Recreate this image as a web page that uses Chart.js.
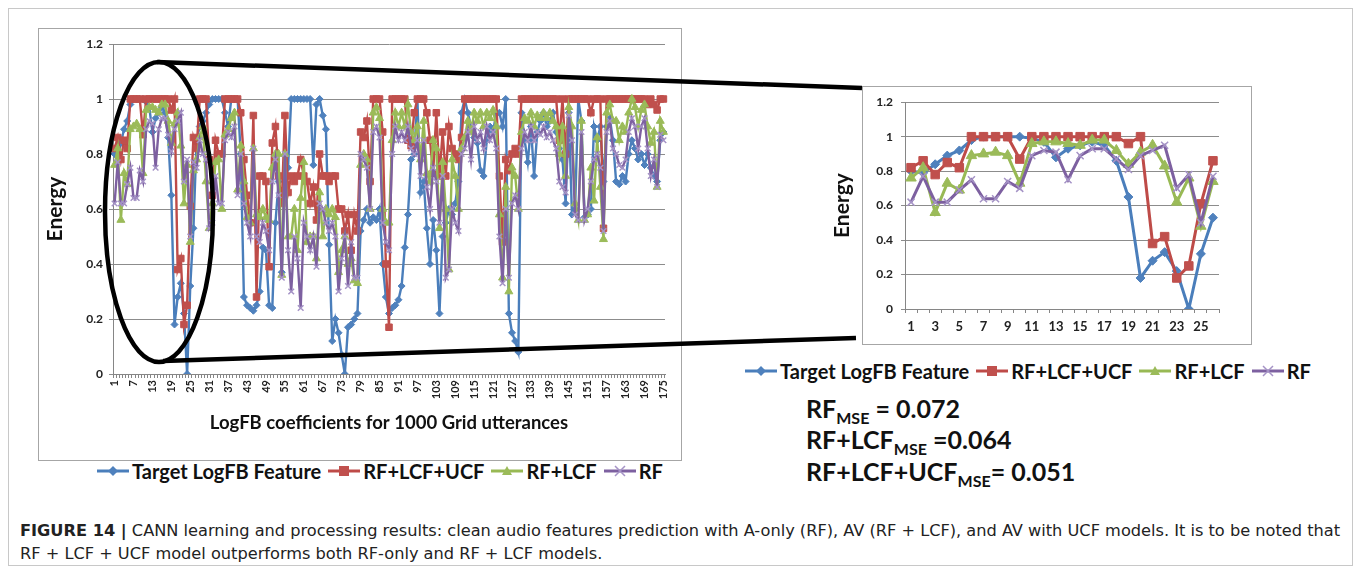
<!DOCTYPE html>
<html>
<head>
<meta charset="utf-8">
<script src="https://cdn.jsdelivr.net/npm/chart.js@4.4.1/dist/chart.umd.min.js"></script>
<style>
body { margin: 0; background: #fff; }
#page { position: relative; width: 1360px; height: 571px; overflow: hidden; background: #fff; font-family: Lato, 'Open Sans', sans-serif; }
#frame { position: absolute; left: 8px; top: 8px; width: 1343px; height: 556px; border: 1px solid #c8c8c8; }
.box { position: absolute; border: 1px solid #a6a6a6; }
canvas { position: absolute; }
.legend { position: absolute; display: flex; align-items: center; font-weight: 700; font-size: 20px; color: #111; white-space: nowrap; }
.legend .item { display: flex; align-items: center; margin-right: 7px; }
.legend svg { margin-right: 3px; }
.mse { position: absolute; left: 806px; font-weight: 700; font-size: 25px; color: #111; white-space: nowrap; }
.mse sub { font-size: 16px; vertical-align: -6px; line-height: 0; }
#caption { position: absolute; left: 20px; top: 519px; font-family: 'Liberation Sans Narrow', 'DejaVu Sans Condensed', sans-serif; font-size: 16px; line-height: 23px; color: #222; white-space: nowrap; transform-origin: 0 0; }
#overlay { position: absolute; left: 0; top: 0; pointer-events: none; }
</style>
</head>
<body>
<div id="page">
  <div id="frame"></div>
  <div class="box" style="left:38px;top:28px;width:642px;height:431px;"></div>
  <canvas id="fullChart" width="641" height="430" style="left:39px;top:29px;"></canvas>
  <div class="legend" id="legendFull" style="left:97px;top:459px;"></div>

  <div class="box" style="left:862px;top:86px;width:388px;height:257px;"></div>
  <canvas id="zoomChart" width="423" height="255" style="left:826px;top:87px;"></canvas>
  <div class="legend" id="legendZoom" style="left:745px;top:359px;"></div>

  <div id="mseBlock"></div>

  <div id="caption"><b>FIGURE 14 |</b> CANN learning and processing results: clean audio features prediction with A-only (RF), AV (RF + LCF), and AV with UCF models. It is to be noted that<br>RF + LCF + UCF model outperforms both RF-only and RF + LCF models.</div>

  <svg id="overlay" width="1360" height="571">
    <ellipse cx="159" cy="212" rx="54" ry="150" fill="none" stroke="#000" stroke-width="4.5"/>
    <line x1="157" y1="62" x2="862" y2="88" stroke="#000" stroke-width="4.5"/>
    <line x1="163" y1="361" x2="856" y2="338" stroke="#000" stroke-width="4.5"/>
  </svg>
</div>

<script>
// categories (LogFB coefficient index)
const coeffLabels = Array.from({ length: 175 }, (_, i) => String(i + 1));
const zoomCount = 26;

const seriesNames = ['Target LogFB Feature', 'RF+LCF+UCF', 'RF+LCF', 'RF'];

const targetFeature = [
  0.80, 0.79, 0.84, 0.89, 0.92, 0.98, 1, 1, 1, 1, 0.99, 0.97, 0.88, 0.93, 0.95, 0.97, 0.95, 0.86, 0.65, 0.18, 0.28, 0.33, 0.22, 0.0, 0.32, 0.53,
  0.85, 0.9, 0.92, 0.95, 0.98, 1, 1, 1, 1, 0.95, 0.9, 1, 1, 1,
  0.8, 0.28, 0.25, 0.24, 0.23, 0.25, 0.3, 0.46, 0.45, 0.25,
  0.24, 0.55, 0.7, 0.37, 0.7, 0.75, 1, 1, 1, 1,
  1, 1, 1, 0.76, 0.98, 1, 0.94, 0.89, 0.47, 0.12,
  0.2, 0.15, 0.07, 0.0, 0.17, 0.18, 0.2, 0.22, 0.52, 0.56,
  0.6, 0.55, 0.57, 0.56, 0.6, 0.4, 0.28, 0.22, 0.24, 0.25,
  0.27, 0.32, 0.46, 0.58, 0.78, 0.8, 1, 0.66, 0.7, 0.53,
  0.4, 0.56, 0.45, 0.22, 0.5, 0.55, 0.6, 0.58, 0.62, 0.7,
  0.95, 1, 0.95, 0.9, 0.86, 0.84, 0.74, 0.72, 0.85, 0.9,
  0.88, 0.95, 0.95, 0.9, 1, 0.22, 0.15, 0.12, 0.08, 0.95,
  0.85, 0.77, 0.9, 0.72, 0.88, 0.92, 0.95, 0.9, 0.92, 0.95,
  0.88, 0.82, 0.78, 0.62, 0.95, 0.58, 0.6, 1, 0.92, 0.57,
  0.58, 0.6, 0.9, 0.85, 0.9, 0.7, 0.9, 0.93, 0.85, 0.7,
  0.69, 0.72, 0.7, 0.8, 0.85, 0.82, 0.78, 0.8, 0.76, 0.8,
  0.75, 0.72, 0.7, 0.85, 0.88
];

const rfLcfUcf = [
  0.82, 0.86, 0.78, 0.85, 0.82, 1, 1, 1, 1, 0.87, 1, 1, 1, 1, 1, 1, 1, 1, 0.96, 1, 0.38, 0.42, 0.18, 0.25, 0.61, 0.86,
  0.82, 1, 1, 1, 0.78, 0.65, 0.85, 0.8, 0.8, 1, 1, 1, 1, 1,
  0.95, 0.78, 0.65, 0.55, 0.94, 0.28, 0.72, 0.72, 0.7, 0.39,
  0.84, 0.9, 0.72, 0.62, 0.94, 0.66, 0.72, 0.7, 0.72, 0.78,
  0.72, 0.7, 0.62, 0.68, 0.56, 0.8, 0.72, 0.72, 0.7, 0.72,
  0.72, 0.6, 0.6, 0.52, 0.58, 0.45, 0.58, 0.52, 0.88, 0.86,
  0.92, 0.7, 1, 1, 1, 0.88, 0.4, 0.17, 1, 1,
  1, 1, 1, 0.85, 0.83, 0.95, 1, 1, 1, 0.95,
  0.85, 0.73, 0.95, 0.72, 0.88, 0.72, 0.9, 0.82, 0.8, 0.78,
  0.86, 1, 1, 1, 1, 1, 1, 1, 1, 1,
  1, 1, 0.72, 0.48, 0.78, 0.74, 0.8, 0.82, 0.8, 1,
  1, 1, 1, 1, 1, 1, 1, 1, 1, 1,
  1, 0.85, 1, 0.8, 1, 1, 1, 1, 1, 1,
  1, 0.95, 1, 1, 1, 0.53, 1, 1, 1, 1,
  1, 1, 1, 1, 1, 1, 1, 1, 1, 0.98,
  1, 0.98, 0.96, 1, 1
];

const rfLcf = [
  0.76, 0.82, 0.56, 0.73, 0.69, 0.89, 0.90, 0.91, 0.89, 0.73, 0.96, 0.97, 0.97, 0.96, 0.95, 0.98, 0.98, 0.92, 0.84, 0.91, 0.95, 0.83, 0.62, 0.76, 0.48, 0.74,
  0.78, 0.86, 0.9, 0.7, 0.53, 0.62, 0.77, 0.78, 0.6, 0.87, 0.89, 0.93, 0.95, 0.67,
  0.83, 0.7, 0.57, 0.55, 0.82, 0.58, 0.57, 0.6, 0.57, 0.56,
  0.75, 0.8, 0.8, 0.36, 0.8, 0.5, 0.5, 0.6, 0.45, 0.64,
  0.77, 0.48, 0.5, 0.5, 0.42, 0.66, 0.5, 0.6, 0.58, 0.6,
  0.57, 0.37, 0.45, 0.5, 0.4, 0.42, 0.34, 0.33, 0.76, 0.8,
  0.78, 0.6, 0.95, 0.97, 0.93, 0.6, 0.55, 0.55, 0.85, 0.95,
  0.9, 0.95, 0.9, 0.98, 0.88, 0.85, 0.9, 0.78, 0.92, 0.73,
  0.7, 0.85, 0.82, 0.53, 0.77, 0.6, 0.38, 0.78, 0.72, 0.6,
  0.82, 0.86, 0.92, 0.88, 0.95, 0.92, 0.95, 0.9, 0.95, 0.93,
  0.96, 0.9, 0.58, 0.35, 0.68, 0.3, 0.75, 0.72, 0.6, 0.88,
  0.93, 0.92, 0.95, 0.9, 0.94, 0.93, 0.95, 0.93, 0.95, 0.92,
  0.9, 0.8, 0.9, 0.72, 0.97, 0.9, 0.62, 0.56, 0.92, 0.56,
  0.58, 0.75, 0.63, 0.86, 0.68, 0.49, 0.95, 0.98, 0.92, 0.92,
  0.85, 0.9, 0.88, 0.95, 1, 0.97, 0.9, 0.96, 0.98, 0.9,
  0.84, 0.88, 0.68, 0.92, 0.88
];

const rfOnly = [
  0.62, 0.77, 0.62, 0.62, 0.69, 0.75, 0.64, 0.64, 0.74, 0.70, 0.89, 0.92, 0.91, 0.75, 0.89, 0.93, 0.93, 0.87, 0.81, 0.89, 0.92, 0.95, 0.70, 0.78, 0.50, 0.77,
  0.75, 0.85, 0.8, 0.78, 0.53, 0.55, 0.72, 0.62, 0.62, 0.85, 0.88, 0.86, 0.9, 0.65,
  0.8, 0.62, 0.55, 0.5, 0.82, 0.5, 0.48, 0.55, 0.52, 0.45,
  0.7, 0.78, 0.65, 0.35, 0.8, 0.45, 0.3, 0.5, 0.42, 0.24,
  0.55, 0.5, 0.45, 0.5, 0.39, 0.62, 0.6, 0.55, 0.52, 0.55,
  0.5, 0.3, 0.42, 0.5, 0.32, 0.48, 0.35, 0.35, 0.8, 0.78,
  0.75, 0.6, 0.88, 0.9, 0.86, 0.55, 0.48, 0.45, 0.8, 0.9,
  0.85, 0.88, 0.85, 0.9, 0.82, 0.8, 0.85, 0.72, 0.85, 0.68,
  0.6, 0.75, 0.7, 0.55, 0.72, 0.35, 0.38, 0.6, 0.55, 0.52,
  0.8, 0.82, 0.88, 0.78, 0.9, 0.85, 0.88, 0.82, 0.9, 0.85,
  0.88, 0.82, 0.5, 0.33, 0.6, 0.35, 0.62, 0.65, 0.6, 0.82,
  0.88, 0.85, 0.9, 0.85, 0.88, 0.87, 0.9, 0.86, 0.88, 0.85,
  0.82, 0.7, 0.68, 0.66, 0.94, 0.85, 0.58, 0.56, 0.88, 0.56,
  0.6, 0.7, 0.78, 0.8, 0.75, 0.52, 0.88, 0.92, 0.82, 0.8,
  0.76, 0.75, 0.78, 0.88, 0.93, 0.9, 0.82, 0.9, 0.93, 0.82,
  0.72, 0.78, 0.68, 0.87, 0.85
];

const mseModels = ['RF', 'RF+LCF', 'RF+LCF+UCF'];
const mseValues = ['0.072', '0.064', '0.051'];

const seriesValues = [targetFeature, rfLcfUcf, rfLcf, rfOnly];
const seriesColors = ['#4A7EBB', '#BE4B48', '#98B954', '#7D60A0'];
const markerColors = ['#4F81BD', '#C0504D', '#9BBB59', '#A593C6'];
const seriesMarkers = ['rectRot', 'rect', 'triangle', 'crossRot'];

const fontFamily = "Lato, 'Open Sans', sans-serif";

function buildDatasets(count, zoomed) {
  const radius = zoomed ? [4.5, 6, 6, 5] : [3.5, 4.6, 4.6, 4];
  return seriesNames.map((name, k) => ({
    label: name,
    data: seriesValues[k].slice(0, count),
    borderColor: seriesColors[k],
    backgroundColor: markerColors[k],
    pointStyle: seriesMarkers[k],
    pointRadius: radius[k],
    pointBorderColor: markerColors[k],
    pointBorderWidth: k === 3 ? 1.5 : 1,
    borderWidth: zoomed ? 3 : 2.4,
    tension: 0,
    order: 4 - k
  }));
}

function axisOptions(cfg) {
  return {
    x: {
      type: 'category',
      offset: true,
      grid: { display: true, drawOnChartArea: false, drawTicks: true, tickLength: 4, color: '#868686', offset: true },
      border: { display: true, color: '#868686' },
      ticks: {
        autoSkip: false,
        maxRotation: cfg.rotation,
        minRotation: cfg.rotation,
        padding: cfg.xPad,
        color: '#222',
        font: { family: fontFamily, weight: 'bold', size: cfg.xFont },
        callback: (v, i) => (i % cfg.every === 0 ? coeffLabels[i] : '')
      },
      title: {
        display: !!cfg.xTitle,
        text: cfg.xTitle || '',
        color: '#111',
        font: { family: fontFamily, weight: 'bold', size: 18.5 },
        padding: { top: 0, bottom: 3 }
      },
      afterFit: s => { s.height = cfg.xHeight; }
    },
    y: {
      min: 0,
      max: 1.2,
      grid: { color: '#8c8c8c', tickLength: 4 },
      border: { display: true, color: '#868686' },
      ticks: {
        stepSize: 0.2,
        padding: cfg.yPad,
        color: '#222',
        font: { family: fontFamily, weight: 'bold', size: 12 },
        callback: v => String(+v.toFixed(1))
      },
      title: {
        display: true,
        text: 'Energy',
        color: '#111',
        font: { family: fontFamily, weight: 'bold', size: 21 },
        padding: { top: 4, bottom: 0 }
      },
      afterFit: s => { s.width = cfg.yWidth; }
    }
  };
}

function makeChart(id, count, zoomed, cfg) {
  return new Chart(document.getElementById(id), {
    type: 'line',
    data: { labels: coeffLabels.slice(0, count), datasets: buildDatasets(count, zoomed) },
    options: {
      responsive: false,
      animation: false,
      devicePixelRatio: 1,
      layout: { padding: cfg.padding },
      plugins: { legend: { display: false }, tooltip: { enabled: false } },
      scales: axisOptions(cfg)
    }
  });
}

makeChart('fullChart', coeffLabels.length, false, {
  rotation: 90, xPad: 2, xFont: 11, every: 6,
  xTitle: 'LogFB coefficients for 1000 Grid utterances',
  xHeight: 63, yWidth: 74, yPad: 6,
  padding: { top: 15, right: 15, bottom: 22, left: 0 }
});

makeChart('zoomChart', zoomCount, true, {
  rotation: 0, xPad: 6, xFont: 13, every: 2,
  xTitle: null,
  xHeight: 33, yWidth: 79, yPad: 8,
  padding: { top: 14, right: 30, bottom: 0, left: 0 }
});

// legends (HTML, drawn from the series settings)
function markerSvg(k) {
  const c = seriesColors[k], m = markerColors[k];
  let shape = '';
  if (k === 0) shape = `<polygon points="16,2 21,7 16,12 11,7" fill="${m}"/>`;
  if (k === 1) shape = `<rect x="11" y="2" width="10" height="10" fill="${m}"/>`;
  if (k === 2) shape = `<polygon points="16,2 21,11 11,11" fill="${m}"/>`;
  if (k === 3) shape = `<path d="M11,2 L21,12 M21,2 L11,12" stroke="${m}" stroke-width="1.5"/>`;
  return `<svg width="32" height="14"><line x1="0" y1="7" x2="32" y2="7" stroke="${c}" stroke-width="3"/>${shape}</svg>`;
}
['legendFull', 'legendZoom'].forEach(id => {
  const el = document.getElementById(id);
  el.innerHTML = seriesNames.map((n, k) => `<span class="item">${markerSvg(k)}${n}</span>`).join('');
});

// MSE summary
const mseTops = [393, 424, 456];
document.getElementById('mseBlock').innerHTML = mseModels.map((m, i) => {
  const gap = i === 0 ? ' = ' : (i === 1 ? ' =' : '= ');
  return `<div class="mse" style="top:${mseTops[i]}px">${m}<sub>MSE</sub>${gap}${mseValues[i]}</div>`;
}).join('');

// fit caption width to the figure
const cap = document.getElementById('caption');
const w = cap.getBoundingClientRect().width;
cap.style.transform = `scaleX(${1320 / w})`;
</script>
</body>
</html>
